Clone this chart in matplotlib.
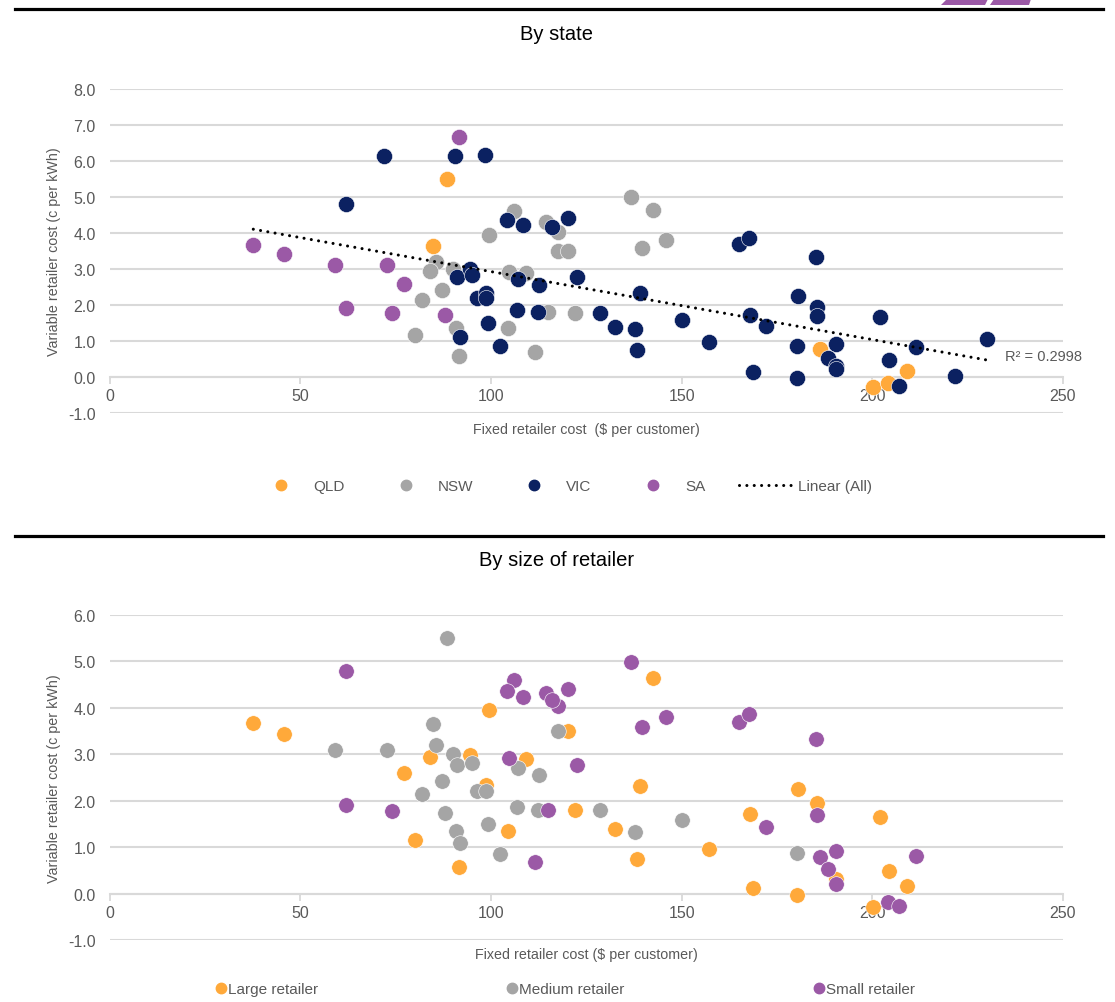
import numpy as np
import matplotlib
matplotlib.use('Agg')
import matplotlib.pyplot as plt
from matplotlib.lines import Line2D
from matplotlib.patches import Polygon
from matplotlib.ticker import FormatStrFormatter

plt.rcParams['font.family'] = ['Liberation Sans Narrow', 'Liberation Sans', 'DejaVu Sans']

# ---------------- data ----------------
fixed_cost = [
    88.5, 84.8, 186.2, 200.2, 204.0, 209.0,
    91.6, 37.7, 45.8, 59.1, 72.8, 77.2, 62.0, 74.0, 88.0,
    136.7, 142.4, 106.1, 114.5, 117.6, 99.6, 117.6, 120.2, 139.6, 145.8, 85.5, 84.0,
    87.2, 81.9, 80.1, 90.0, 104.7, 109.1, 115.0, 122.1, 90.8, 104.6, 91.6, 111.6,
    71.9, 90.7, 98.4, 62.1, 104.1, 108.4, 116.1, 120.1, 165.1, 167.6, 91.2, 94.4,
    95.1, 107.0, 112.7, 122.5, 96.3, 98.6, 98.8, 106.8, 112.3, 128.5, 132.6, 91.8,
    99.2, 102.3, 139.0, 137.7, 138.4, 150.1, 157.1, 168.0, 172.0, 168.6, 185.3, 180.4,
    185.6, 185.6, 202.0, 180.2, 190.6, 188.3, 190.5, 190.5, 180.2, 204.4, 211.4, 230.1,
    221.8, 207.0,
]
variable_cost = [
    5.51, 3.65, 0.79, -0.28, -0.18, 0.17,
    6.68, 3.67, 3.43, 3.10, 3.10, 2.59, 1.91, 1.78, 1.73,
    4.99, 4.64, 4.60, 4.31, 4.03, 3.95, 3.50, 3.51, 3.59, 3.81, 3.20, 2.94,
    2.43, 2.15, 1.16, 3.00, 2.91, 2.89, 1.80, 1.79, 1.35, 1.35, 0.57, 0.69,
    6.13, 6.15, 6.18, 4.80, 4.36, 4.23, 4.17, 4.41, 3.70, 3.87, 2.77, 2.99,
    2.82, 2.71, 2.56, 2.78, 2.20, 2.34, 2.20, 1.87, 1.81, 1.79, 1.40, 1.10,
    1.50, 0.86, 2.32, 1.33, 0.74, 1.58, 0.97, 1.72, 1.43, 0.13, 3.33, 2.25,
    1.95, 1.70, 1.66, 0.87, 0.92, 0.54, 0.31, 0.21, -0.04, 0.48, 0.82, 1.06,
    0.02, -0.26,
]
state = (['QLD'] * 6 + ['SA'] * 9 + ['NSW'] * 24 + ['VIC'] * 50)
size = [
    'Medium', 'Medium', 'Small', 'Large', 'Small', 'Large',
    None, 'Large', 'Large', 'Medium', 'Medium', 'Large', 'Small', 'Small', 'Medium',
    'Small', 'Large', 'Small', 'Small', 'Small', 'Large', 'Medium', 'Large', 'Small', 'Small', 'Medium', 'Large',
    'Medium', 'Medium', 'Large', 'Medium', 'Small', 'Large', 'Small', 'Large', 'Medium', 'Large', 'Large', 'Small',
    None, None, None, 'Small', 'Small', 'Small', 'Small', 'Small', 'Small', 'Small', 'Medium', 'Large',
    'Medium', 'Medium', 'Medium', 'Small', 'Medium', 'Large', 'Medium', 'Medium', 'Medium', 'Medium', 'Large', 'Medium',
    'Medium', 'Medium', 'Large', 'Medium', 'Large', 'Medium', 'Large', 'Large', 'Small', 'Large', 'Small', 'Large',
    'Large', 'Small', 'Large', 'Medium', 'Small', 'Small', 'Large', 'Small', 'Large', 'Large', 'Small', None,
    None, 'Small',
]

state_order = ['QLD', 'NSW', 'VIC', 'SA']
state_colors = {'QLD': '#FFA93A', 'NSW': '#A5A5A5', 'VIC': '#0B2161', 'SA': '#9B59A6'}
size_order = ['Large', 'Medium', 'Small']
size_labels = ['Large retailer', 'Medium retailer', 'Small retailer']
size_colors = {'Large': '#FFA93A', 'Medium': '#A5A5A5', 'Small': '#9B59A6'}
r2_label = 'R² = 0.2998'
x_ticks = [0, 50, 100, 150, 200, 250]

x = np.array(fixed_cost)
y = np.array(variable_cost)
st = np.array(state)
sz = np.array([s if s is not None else '' for s in size])

# ---------------- layout ----------------
W, H = 1115, 1003
fig = plt.figure(figsize=(W / 100, H / 100), dpi=100)


def fx(px):
    return px / W


def fy(py):
    return 1 - py / H


TXT = '#595959'
GRID = '#D9D9D9'


def style(ax, ymin, ymax):
    ax.set_xlim(0, 250)
    ax.set_ylim(ymin, ymax)
    ax.set_xticks(x_ticks)
    ax.set_yticks(np.arange(ymin, ymax + 0.5, 1.0))
    ax.yaxis.set_major_formatter(FormatStrFormatter('%.1f'))
    ax.grid(axis='y', color=GRID, lw=1.5)
    ax.grid(axis='x', visible=False)
    ax.set_axisbelow(True)
    for s in ['left', 'right', 'top']:
        ax.spines[s].set_visible(False)
    ax.spines['bottom'].set_position(('data', 0))
    ax.spines['bottom'].set_color(GRID)
    ax.spines['bottom'].set_linewidth(1.5)
    ax.tick_params(axis='y', length=0, pad=10, labelsize=11.5, labelcolor=TXT)
    ax.tick_params(axis='x', length=5, width=1.3, color=GRID, direction='out',
                   pad=3, labelsize=11.5, labelcolor=TXT)
    ax.set_ylabel('Variable retailer cost (c per kWh)', fontsize=10.3, color=TXT)
    ax.yaxis.set_label_coords(-0.058, 0.5)
    ax.yaxis.label.set_va('center')


# ---------- top chart ----------
ax1 = fig.add_axes([fx(109.5), fy(414), 953.5 / W, 324 / H])
style(ax1, -1, 8)
for s in state_order:
    m = st == s
    ax1.scatter(x[m], y[m], s=135, color=state_colors[s], edgecolors='white',
                linewidths=0.4, zorder=3)
coef = np.polyfit(x, y, 1)
xs = np.array([x.min(), x.max()])
dot_style = (0, (0.01, 2.4))
ax1.plot(xs, np.polyval(coef, xs), color='black', lw=2.2, linestyle=dot_style,
         dash_capstyle='round', zorder=4)
ax1.text(234.8, 0.59, r2_label, ha='left', va='center', fontsize=10.5, color=TXT)
ax1.set_xlabel('Fixed retailer cost  ($ per customer)', fontsize=10.3, color=TXT)
ax1.xaxis.set_label_coords(0.5, -0.05)
ax1.xaxis.label.set_va('center')

handles = [Line2D([], [], marker='o', ls='none', markersize=7.5,
                  mfc=state_colors[s], mec=state_colors[s]) for s in state_order]
handles.append(Line2D([], [], color='black', lw=2.2, linestyle=dot_style,
                      dash_capstyle='round'))
fig.legend(handles, state_order + ['Linear (All)'], loc='center',
           bbox_to_anchor=(fx(563), fy(487)), ncol=5, frameon=False,
           handlelength=3.6, handletextpad=0.3, columnspacing=2.2, fontsize=11,
           labelcolor=TXT)

# ---------- bottom chart ----------
ax2 = fig.add_axes([fx(109.5), fy(941), 953.5 / W, 325 / H])
style(ax2, -1, 6)
for s in size_order:
    m = sz == s
    ax2.scatter(x[m], y[m], s=125, color=size_colors[s], edgecolors='white',
                linewidths=0.4, zorder=3)
ax2.set_xlabel('Fixed retailer cost ($ per customer)', fontsize=10.3, color=TXT)
ax2.xaxis.set_label_coords(0.5, -0.043)
ax2.xaxis.label.set_va('center')

handles2 = [Line2D([], [], marker='o', ls='none', markersize=7.5,
                   mfc=size_colors[s], mec=size_colors[s]) for s in size_order]
fig.legend(handles2, size_labels, loc='center', bbox_to_anchor=(fx(565), fy(990)),
           ncol=3, frameon=False, handlelength=0.8, handletextpad=0.05,
           columnspacing=12.3, fontsize=11, labelcolor=TXT)

# ---------- titles, rules, logo ----------
fig.text(fx(557), fy(35), 'By state', ha='center', va='center', fontsize=14.5, color='black')
fig.text(fx(557), fy(561), 'By size of retailer', ha='center', va='center', fontsize=14.5,
         color='black')
for py in (10, 537):
    fig.add_artist(Line2D([fx(15), fx(1103)], [fy(py), fy(py)], transform=fig.transFigure,
                          color='black', lw=2.3))
for poly in ([(941, 6), (947, 0), (988, 0), (985, 6)],
             [(990, 6), (994, 0), (1031, 0), (1029, 6)]):
    fig.add_artist(Polygon([(fx(a), fy(b)) for a, b in poly], closed=True,
                           transform=fig.transFigure, color='#9B59A6', lw=0))

fig.savefig('out.png', dpi=100)
